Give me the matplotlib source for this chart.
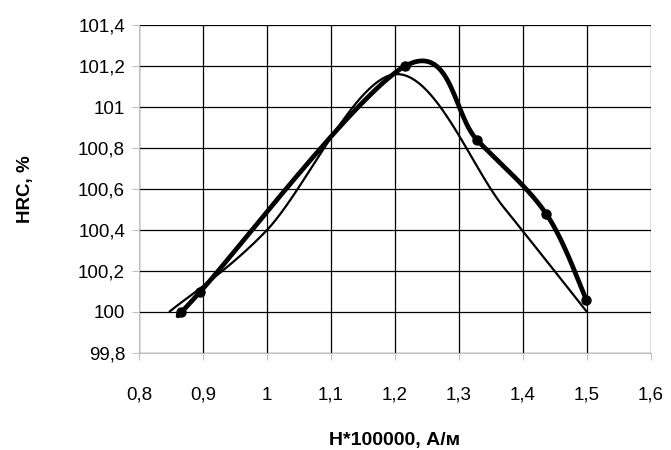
import matplotlib
matplotlib.use('Agg')
import matplotlib.pyplot as plt
import numpy as np
from matplotlib.ticker import FuncFormatter

plt.rcParams['font.family'] = ['Liberation Sans', 'DejaVu Sans']

# thick series (with markers)
h1 = [0.866, 0.896, 1.216, 1.328, 1.436, 1.499]
hrc1 = [100.0, 100.10, 101.20, 100.84, 100.48, 100.06]

# thin series
h2 = [0.847, 1.0, 1.2, 1.37, 1.5]
hrc2 = [100.0, 100.40, 101.16, 100.51, 100.0]

xticks = [0.8, 0.9, 1.0, 1.1, 1.2, 1.3, 1.4, 1.5, 1.6]
yticks = [99.8, 100.0, 100.2, 100.4, 100.6, 100.8, 101.0, 101.2, 101.4]


def smooth(x, y, n=30):
    # excel-like smoothed line: bezier with control points from neighbours
    x = np.asarray(x, float)
    y = np.asarray(y, float)
    px = np.concatenate([[x[0]], x, [x[-1]]])
    py = np.concatenate([[y[0]], y, [y[-1]]])
    xs, ys = [], []
    t = np.linspace(0, 1, n)
    for i in range(1, len(px) - 2):
        p0 = np.array([px[i], py[i]])
        p3 = np.array([px[i + 1], py[i + 1]])
        c1 = p0 + (np.array([px[i + 1], py[i + 1]]) - np.array([px[i - 1], py[i - 1]])) / 6
        c2 = p3 - (np.array([px[i + 2], py[i + 2]]) - np.array([px[i], py[i]])) / 6
        bx = (1 - t) ** 3 * p0[0] + 3 * (1 - t) ** 2 * t * c1[0] + 3 * (1 - t) * t ** 2 * c2[0] + t ** 3 * p3[0]
        by = (1 - t) ** 3 * p0[1] + 3 * (1 - t) ** 2 * t * c1[1] + 3 * (1 - t) * t ** 2 * c2[1] + t ** 3 * p3[1]
        xs.extend(bx)
        ys.extend(by)
    return xs, ys


def lab(v):
    return ('%.1f' % v).rstrip('0').rstrip('.').replace('.', ',')


fig = plt.figure(figsize=(6.71, 4.5), dpi=100)
ax = fig.add_axes([139 / 671, 1 - 353 / 450, (651 - 139) / 671, (353 - 25) / 450])

sx, sy = smooth(h2, hrc2)
ax.plot(sx, sy, color='black', lw=1.6, solid_capstyle='butt')

sx, sy = smooth(h1, hrc1)
ax.plot(sx, sy, color='black', lw=3.4)
ax.plot(h1, hrc1, 'o', color='black', ms=6.5)

ax.set_xlim(0.8, 1.6)
ax.set_ylim(99.8, 101.4)
ax.set_xticks(xticks)
ax.set_yticks(yticks)
ax.yaxis.set_major_formatter(FuncFormatter(lambda v, p: lab(v)))
ax.set_xticklabels([])

# x tick labels on one common baseline
for v in xticks:
    ax.text(v, -47 / 328, lab(v), transform=ax.get_xaxis_transform(),
            ha='center', va='baseline', fontsize=13.5)

ax.grid(True, color='black', lw=0.9)
ax.set_axisbelow(True)
for s in ['top', 'right']:
    ax.spines[s].set_visible(False)
for s in ['left', 'bottom']:
    ax.spines[s].set_color('#c0c0c0')
ax.tick_params(length=5, color='#c0c0c0', labelsize=13.5, pad=5)

ax.set_xlabel('H*100000, А/м', fontsize=14, fontweight='bold', va='baseline')
ax.xaxis.set_label_coords(0.5, -92 / 328)
ax.set_ylabel('HRC, %', fontsize=13.5, fontweight='bold', va='baseline')
ax.yaxis.set_label_coords(-109 / 512, 0.5)

fig.savefig('out.png', dpi=100)
